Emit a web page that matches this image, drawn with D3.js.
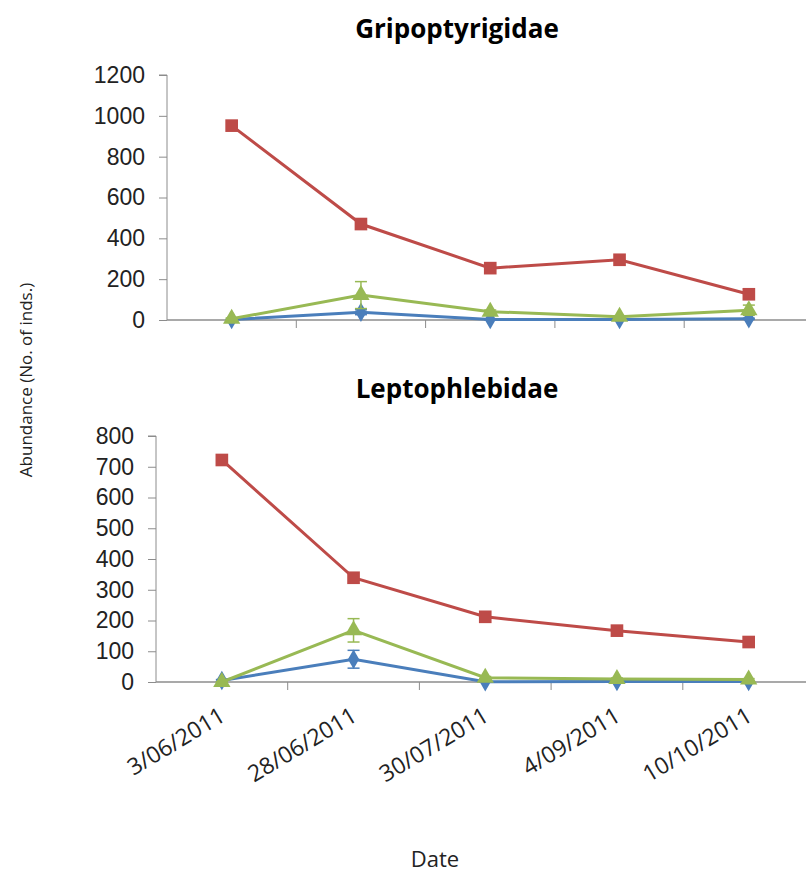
<!DOCTYPE html>
<html>
<head>
<meta charset="utf-8">
<script src="https://cdn.jsdelivr.net/npm/d3@7"></script>
<style>
  body { margin: 0; background: #fff; }
  svg { display: block; font-family: "Open Sans", sans-serif; }
  .axis path, .axis line { stroke: #8c8c8c; }
</style>
</head>
<body>
<div id="chart"></div>
<script>
// sampling dates (x categories)
var dates = ["3/06/2011", "28/06/2011", "30/07/2011", "4/09/2011", "10/10/2011"];

// Gripoptyrigidae
var gripBlue = [2, 38, 2, 3, 6];
var gripBlueErr = [3, 12, 2, 2, 3];
var gripRed = [952, 470, 254, 295, 126];
var gripGreen = [6, 122, 41, 16, 48];
var gripGreenErr = [4, 66, 8, 5, 25];
var gripTicks = [0, 200, 400, 600, 800, 1000, 1200];

// Leptophlebidae
var leptoBlue = [5, 74, 1, 2, 2];
var leptoBlueErr = [3, 29, 1, 1, 1];
var leptoRed = [722, 339, 212, 167, 130];
var leptoGreen = [0, 168, 14, 10, 8];
var leptoGreenErr = [1, 38, 4, 3, 3];
var leptoTicks = [0, 100, 200, 300, 400, 500, 600, 700, 800];

var colors = {blue: "#4a7ebb", red: "#be4b48", green: "#98b954"};

var svg = d3.select("#chart").append("svg")
    .attr("width", 806)
    .attr("height", 876);

function drawPanel(opt) {
  var x = d3.scaleBand().domain(dates).range([opt.left, opt.left + 5 * opt.band]);
  var y = d3.scaleLinear().domain([0, opt.ticks[opt.ticks.length - 1]]).range([opt.bottom, opt.top]);
  var cx = function(i) { return x(dates[i]) + x.bandwidth() / 2; };

  // title
  svg.append("text")
     .attr("x", 457).attr("y", opt.titleY)
     .attr("text-anchor", "middle")
     .style("font-size", "26px").style("font-weight", "bold")
     .text(opt.title);

  // y axis
  var yAxis = svg.append("g")
     .attr("class", "axis")
     .attr("transform", "translate(" + opt.left + ",0)")
     .call(d3.axisLeft(y).tickValues(opt.ticks).tickFormat(d3.format("d")).tickSize(8).tickPadding(14));
  yAxis.selectAll("text").style("font-size", "23px").style("fill", "#222").attr("font-family", null);
  yAxis.select(".domain").attr("d", "M-8," + y(opt.ticks[opt.ticks.length - 1]) + "H0V" + y(0));

  // x axis line + tick marks on band edges
  var xg = svg.append("g").attr("class", "axis");
  xg.append("line")
    .attr("x1", opt.left).attr("x2", 806)
    .attr("y1", y(0)).attr("y2", y(0))
    .attr("stroke-width", 1.5);
  xg.selectAll(".tk").data(dates.slice(1)).enter().append("line")
    .attr("x1", function(d) { return x(d); }).attr("x2", function(d) { return x(d); })
    .attr("y1", y(0)).attr("y2", y(0) + 8);

  var line = d3.line().x(function(d, i) { return cx(i); }).y(function(d) { return y(d); });

  var series = [
    {vals: opt.blue, err: opt.blueErr, color: colors.blue, sym: d3.symbolDiamond, size: 110},
    {vals: opt.red, err: null, color: colors.red, sym: d3.symbolSquare, size: 160},
    {vals: opt.green, err: opt.greenErr, color: colors.green, sym: d3.symbolTriangle, size: 130}
  ];

  series.forEach(function(s) {
    svg.append("path")
       .datum(s.vals)
       .attr("d", line)
       .attr("fill", "none")
       .attr("stroke", s.color)
       .attr("stroke-width", 3);

    if (s.err) {
      var eb = svg.append("g").attr("stroke", s.color).attr("stroke-width", 1.5);
      s.vals.forEach(function(v, i) {
        var e = s.err[i];
        eb.append("line").attr("x1", cx(i)).attr("x2", cx(i)).attr("y1", y(v + e)).attr("y2", y(Math.max(0, v - e)));
        eb.append("line").attr("x1", cx(i) - 6).attr("x2", cx(i) + 6).attr("y1", y(v + e)).attr("y2", y(v + e));
        eb.append("line").attr("x1", cx(i) - 6).attr("x2", cx(i) + 6).attr("y1", y(Math.max(0, v - e))).attr("y2", y(Math.max(0, v - e)));
      });
    }

    svg.append("g").selectAll("path").data(s.vals).enter().append("path")
       .attr("d", d3.symbol().type(s.sym).size(s.size))
       .attr("transform", function(d, i) { return "translate(" + cx(i) + "," + y(d) + ")"; })
       .attr("fill", s.color);
  });

  if (opt.labels) {
    svg.append("g").selectAll("text").data(dates).enter().append("text")
       .attr("text-anchor", "end")
       .attr("transform", function(d, i) { return "translate(" + (cx(i) + 5) + "," + (y(0) + 38) + ") rotate(-31)"; })
       .style("font-size", "23px").style("fill", "#222")
       .text(function(d) { return d; });
  }
}

drawPanel({
  title: "Gripoptyrigidae", titleY: 38,
  left: 167, band: 129.3, top: 75, bottom: 320,
  ticks: gripTicks,
  blue: gripBlue, blueErr: gripBlueErr, red: gripRed, green: gripGreen, greenErr: gripGreenErr
});

drawPanel({
  title: "Leptophlebidae", titleY: 398,
  left: 156, band: 131.7, top: 436, bottom: 682,
  ticks: leptoTicks,
  blue: leptoBlue, blueErr: leptoBlueErr, red: leptoRed, green: leptoGreen, greenErr: leptoGreenErr,
  labels: true
});

// shared axis titles
svg.append("text")
   .attr("transform", "translate(32,380) rotate(-90)")
   .attr("text-anchor", "middle")
   .style("font-size", "17px").style("fill", "#222")
   .text("Abundance (No. of inds.)");

svg.append("text")
   .attr("x", 435).attr("y", 867)
   .attr("text-anchor", "middle")
   .style("font-size", "22px").style("fill", "#222")
   .text("Date");
</script>
</body>
</html>
